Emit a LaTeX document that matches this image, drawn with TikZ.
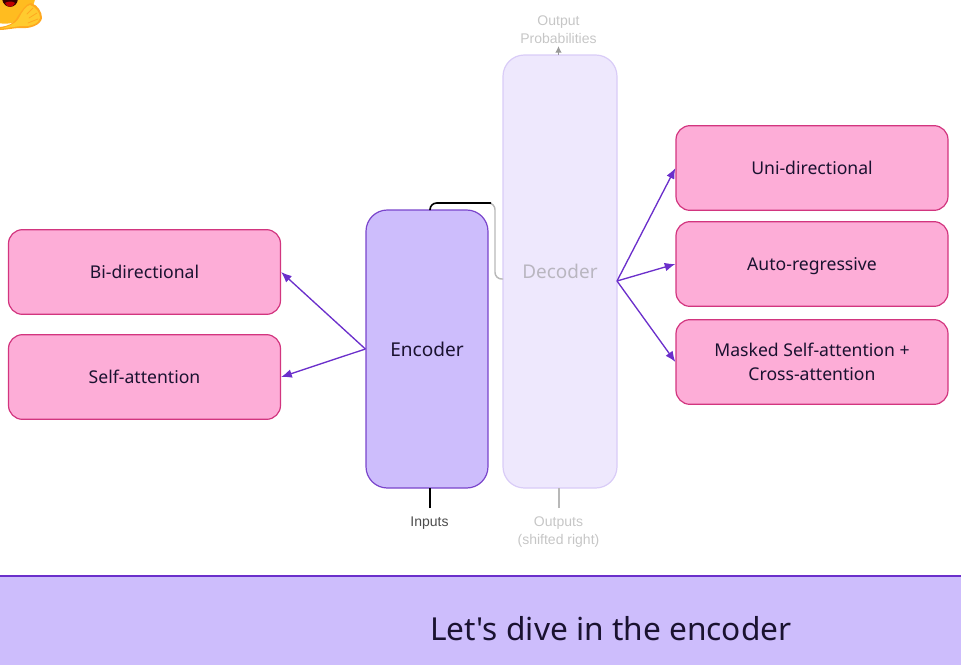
\documentclass[tikz,border=0pt]{standalone}
\usepackage{fontspec}
\setmainfont{Noto Sans}
\newfontfamily\straightfont{Noto Sans}
\newfontfamily\lblfont{Liberation Sans}
\usetikzlibrary{arrows.meta}
\definecolor{pinkfill}{HTML}{FDADD7}
\definecolor{pinkline}{HTML}{D2357F}
\definecolor{encfill}{HTML}{CDBDFC}
\definecolor{encline}{HTML}{7A45CC}
\definecolor{decfill}{HTML}{EEE8FD}
\definecolor{decline}{HTML}{D9CCF7}
\definecolor{arrowpurple}{HTML}{6B2FCB}
\definecolor{inktext}{HTML}{1A1230}
\definecolor{fadetext}{HTML}{B9B6C0}
\definecolor{fadelabel}{HTML}{C6C6C6}
\definecolor{fadeline}{HTML}{B8B8B8}
\definecolor{emojiyellow}{HTML}{FFCB2F}
\definecolor{emojidark}{HTML}{FFA81F}
\definecolor{emojiface}{HTML}{FFBC20}
\tikzset{
  x=0.75pt,y=-0.75pt,
  pinkbox/.style={draw=pinkline,fill=pinkfill,line width=0.9pt,rounded corners=10.5pt,minimum width=204pt,minimum height=63.5pt,inner sep=0pt,align=center,font=\fontsize{13.2}{18}\selectfont,text=inktext},
  bigbox/.style={line width=0.9pt,rounded corners=16pt,inner sep=0pt,font=\fontsize{14.3}{18}\selectfont},
  purplearrow/.style={draw=arrowpurple,line width=1pt,-{Latex[length=8pt,width=6.5pt]}},
  lbl/.style={font=\lblfont\fontsize{10.5}{13.5}\selectfont,align=center,inner sep=0pt},
}
\begin{document}
\begin{tikzpicture}
\useasboundingbox (0,0) rectangle (961,665);
% emoji
\begin{scope}
\clip (0,0) rectangle (961,665);
\fill[emojiface] (5,-7) circle[radius=23pt];
\fill[black!80!red] (2,-1) -- (18,-1) .. controls (17,9) and (4,10) .. (2,-1) -- cycle;
\fill[red!75!black] (5,3) .. controls (8,1) and (13,1) .. (15,3) .. controls (13,8) and (7,8) .. (5,3) -- cycle;
\fill[emojidark] (0,27) .. controls (8,26) and (14,24) .. (18,16) .. controls (22,10) and (27,3) .. (31,3) .. controls (38,5) and (42,12) .. (42,18) .. controls (41,25) and (30,29) .. (21,28) .. controls (13,28) and (6,30) .. (0,30) -- cycle;
\fill[emojiyellow] (0,29) .. controls (8,26) and (15,25) .. (19,18) .. controls (22,12) and (26,6) .. (30,5) .. controls (36,7) and (40,13) .. (40,18) .. controls (39,24) and (29,27) .. (21,26) .. controls (13,27) and (6,28) .. (0,29) -- cycle;
\draw[emojidark,line width=0.6pt,line cap=round] (27,14) -- (33,8) (29,18) -- (37,13) (28,23) -- (38,19);
\end{scope}
% main boxes
\node[bigbox,draw=decline,fill=decfill,minimum width=85.5pt,minimum height=324.75pt] (decoder) at (560,271.5) {};
\node[text=fadetext,font=\fontsize{14.2}{18}\selectfont] (declabel) at (560,271) {Decoder};
\node[bigbox,draw=encline,fill=encfill,minimum width=91.5pt,minimum height=208.5pt,text=inktext] (encoder) at (427,349) {Encoder};
% side boxes
\node[pinkbox] (bi) at (144.5,272) {Bi-directional};
\node[pinkbox] (self) at (144.5,377) {Self-attention};
\node[pinkbox] (uni) at (812,168) {Uni-directional};
\node[pinkbox,text depth=0pt] (auto) at (812,264) {Auto-regressive};
\node[pinkbox] (mask) at (812,362) {Masked Self-attention +\\Cross-attention};
% connectors
\coordinate (encout) at (encoder.west);
\coordinate (decout) at (617,281);
\draw[purplearrow] (encout) -- (bi.east);
\draw[purplearrow] (encout) -- (self.east);
\draw[purplearrow] (decout) -- (uni.west);
\draw[purplearrow] (decout) -- (auto.west);
\draw[purplearrow] (decout) -- (mask.west);
% encoder to decoder
\coordinate (enctop) at (430,210);
\coordinate (corner) at (495,203);
\coordinate (decin) at (503,279);
\draw[fadeline,line width=1.1pt,rounded corners=5pt] (488,203) -- (corner) -- (495,279) -- (decin);
\draw[black,line width=1.2pt,rounded corners=5pt] (enctop) -- (430,203) -- (491,203);
% labels
\node[lbl,text=black!70] (inputs) at (429.5,523) {Inputs};
\node[lbl,text=fadelabel] (outputs) at (558.5,532) {Outputs\\(shifted right)};
\node[lbl,text=fadelabel] (probs) at (558.5,30) {Output\\Probabilities};
\coordinate (inbottom) at (430,508);
\coordinate (intop) at (430,488);
\coordinate (outbottom) at (558.5,508);
\coordinate (outtop) at (558.5,488);
\coordinate (probtop) at (558.5,46);
\coordinate (probbottom) at (558.5,55);
\draw[black,line width=1.4pt] (inbottom) -- (intop);
\draw[fadeline,line width=1.5pt] (outbottom) -- (outtop);
\draw[gray!80,line width=1.1pt,-{Latex[length=5pt,width=5pt]}] (probbottom) -- (probtop);
% banner
\fill[encfill] (0,576) rectangle (961,665);
\coordinate (banL) at (0,576);
\coordinate (banR) at (961,576);
\draw[arrowpurple,line width=0.9pt] (banL) -- (banR);
\node[text=inktext,font=\straightfont\fontsize{23.75}{30}\selectfont,anchor=west,inner sep=0pt] (banner) at (430,629) {Let's dive in the encoder};
\end{tikzpicture}
\end{document}
